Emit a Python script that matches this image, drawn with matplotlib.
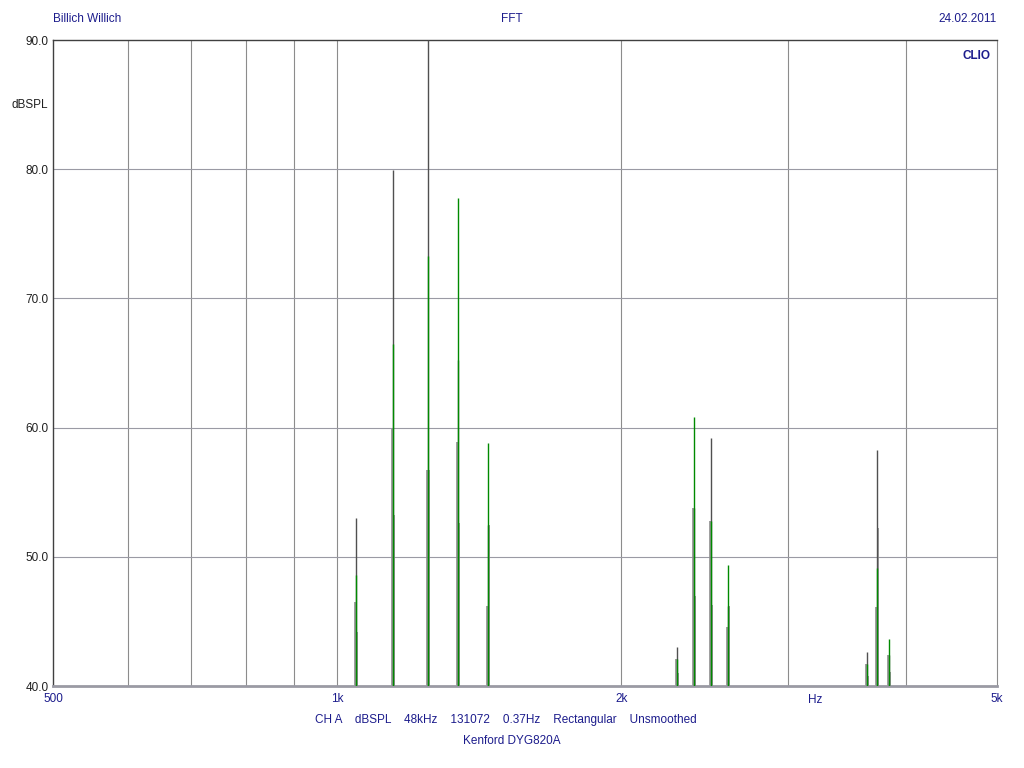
import matplotlib
matplotlib.use("Agg")
import matplotlib.pyplot as plt
from matplotlib.ticker import FixedLocator, NullLocator

plt.rcParams['font.family'] = ['Liberation Sans', 'DejaVu Sans']

# peak centre frequencies (Hz) and levels (dBSPL)
peak_freqs = [1046, 1146, 1247, 1344, 1443, 2292, 2389, 2489, 2595, 3644, 3734, 3839]
gray_peak = [53.0, 79.9, 90.0, 65.2, 52.5, 43.0, 53.8, 59.2, 46.2, 42.6, 58.3, 42.4]
green_peak = [48.6, 66.5, 73.3, 77.8, 58.8, 42.1, 60.8, 52.8, 49.4, 41.7, 49.1, 43.6]
left_bin = [46.5, 59.9, 56.7, 58.9, 46.2, 42.1, 53.8, 52.8, 44.6, 41.7, 46.1, 42.4]
right_bin = [44.2, 53.2, 56.7, 52.6, 52.5, 41.0, 47.0, 46.3, 46.2, 40.8, 52.2, 41.1]

grid_x = [600, 700, 800, 900, 1000, 2000, 3000, 4000]
grid_y = [50, 60, 70, 80]
y_ticks = [40, 50, 60, 70, 80, 90]
x_ticks = [500, 1000, 2000, 5000]
x_labels = ['500', '1k', '2k', '5k']

navy = '#1c1c8c'
floor = 40.0
step = 1.0024  # one pixel-ish bin offset on log axis

fig = plt.figure(figsize=(10.24, 7.68), dpi=100)
ax = fig.add_axes([53 / 1024, 82 / 768, 944 / 1024, 646 / 768])
ax.set_xscale('log')
ax.set_xlim(500, 5000)
ax.set_ylim(40, 90)

for gx in grid_x:
    ax.axvline(gx, color='#8c8c8c', lw=0.8, zorder=1)
for gy in grid_y:
    ax.axhline(gy, color='#9a9aa4', lw=0.8, zorder=1)

# shoulder bins (gray), main gray trace, then green trace on top
lf = [f / step for f in peak_freqs]
rf = [f * step for f in peak_freqs]
ax.vlines(lf, floor, left_bin, color='#8e8e8e', lw=1.2, zorder=2)
ax.vlines(rf, floor, right_bin, color='#8e8e8e', lw=1.2, zorder=2)
ax.vlines(peak_freqs, floor, gray_peak, color='#505050', lw=1.0, zorder=3)
ax.vlines(peak_freqs, floor, green_peak, color='#008a00', lw=1.0, zorder=4)

ax.xaxis.set_major_locator(FixedLocator(x_ticks))
ax.xaxis.set_minor_locator(NullLocator())
ax.set_xticklabels(x_labels)
ax.set_yticks(y_ticks)
ax.set_yticklabels(['%.1f' % v for v in y_ticks])
ax.tick_params(axis='both', length=0, labelsize=8.5)
ax.tick_params(axis='x', pad=5, labelcolor=navy)
ax.tick_params(axis='y', pad=3, labelcolor='#202020')

for s in ['left', 'top']:
    ax.spines[s].set_color('#404040')
    ax.spines[s].set_linewidth(1.0)
ax.spines['right'].set_color('#8c8c8c')
ax.spines['right'].set_linewidth(0.8)
ax.spines['bottom'].set_color('#9a9aa4')
ax.spines['bottom'].set_linewidth(2.0)

ax.text(0.993, 0.985, 'CLIO', transform=ax.transAxes, ha='right', va='top',
        color=navy, fontsize=8.5, fontweight='bold')

fig.text(53 / 1024, 1 - 19 / 768, 'Billich Willich', ha='left', va='center', color=navy, fontsize=8.5)
fig.text(512 / 1024, 1 - 19 / 768, 'FFT', ha='center', va='center', color=navy, fontsize=8.5)
fig.text(997 / 1024, 1 - 19 / 768, '24.02.2011', ha='right', va='center', color=navy, fontsize=8.5)
fig.text(30 / 1024, 1 - 105 / 768, 'dBSPL', ha='center', va='center', color='#202020', fontsize=8.5)
fig.text(815 / 1024, 1 - 700 / 768, 'Hz', ha='center', va='center', color=navy, fontsize=8.5)
fig.text(506 / 1024, 1 - 720 / 768,
         'CH A    dBSPL    48kHz    131072    0.37Hz    Rectangular    Unsmoothed',
         ha='center', va='center', color=navy, fontsize=8.5)
fig.text(512 / 1024, 1 - 741 / 768, 'Kenford DYG820A', ha='center', va='center', color=navy, fontsize=8.5)

fig.savefig('out.png', dpi=100)
